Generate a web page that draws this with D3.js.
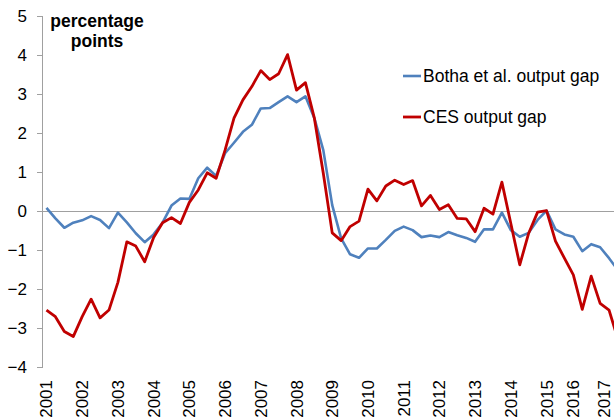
<!DOCTYPE html>
<html><head><meta charset="utf-8">
<script src="https://cdn.jsdelivr.net/npm/d3@7"></script>
<style>
html,body{margin:0;padding:0;background:#fff;}
svg{display:block;font-family:"Liberation Sans",Arial,sans-serif;}
</style></head>
<body>
<svg id="chart" width="614" height="418"></svg>
<script>
// Quarterly observations, 2001Q1 onward
const bothaGap = [0.08,-0.19,-0.43,-0.30,-0.24,-0.13,-0.23,-0.44,-0.04,-0.29,-0.57,-0.80,-0.60,-0.30,0.14,0.32,
  0.31,0.84,1.11,0.90,1.48,1.75,2.03,2.21,2.63,2.64,2.79,2.94,2.79,2.94,2.38,1.56,
  0.15,-0.70,-1.11,-1.20,-0.96,-0.96,-0.74,-0.51,-0.40,-0.49,-0.67,-0.63,-0.67,-0.54,-0.62,-0.69,
  -0.79,-0.47,-0.47,-0.04,-0.49,-0.66,-0.56,-0.23,0.01,-0.47,-0.60,-0.66,-1.03,-0.85,-0.93,-1.21,-1.52];
const cesGap = [-2.54,-2.71,-3.09,-3.22,-2.71,-2.26,-2.74,-2.54,-1.83,-0.79,-0.90,-1.30,-0.68,-0.30,-0.17,-0.32,
  0.22,0.54,0.98,0.84,1.56,2.38,2.85,3.19,3.60,3.37,3.52,4.01,3.10,3.29,2.38,0.97,
  -0.56,-0.76,-0.40,-0.26,0.56,0.26,0.64,0.79,0.68,0.78,0.13,0.40,0.04,0.16,-0.19,-0.20,
  -0.53,0.07,-0.08,0.74,-0.32,-1.38,-0.57,-0.03,0.01,-0.77,-1.21,-1.64,-2.52,-1.67,-2.37,-2.54,-3.30];
const yearLabels = ["2001","2002","2003","2004","2005","2006","2007","2008","2009","2010","2011","2012","2013","2014","2015","2016","2017"];
const yearLabelQuarter = [0,4,8,12,16,20,24,28,32,36,40,44,48,52,56,59,63];
const yTicks = [-4,-3,-2,-1,0,1,2,3,4,5];
const seriesNames = ["Botha et al. output gap","CES output gap"];
const seriesColors = ["#4f81bd","#c00000"];
const yTitle = ["percentage","points"];

const W = 614;
const svg = d3.select("#chart");
const categories = d3.range(cesGap.length);
const left = 42, step = 8.93;
const x = d3.scaleBand().domain(categories).range([left, left + step*categories.length]).padding(0);
const cx = i => x(i) + x.bandwidth()/2;
const y = d3.scaleLinear().domain([-4,5]).range([367,16]);

// zero line
svg.append("line").attr("x1",left).attr("x2",W).attr("y1",y(0)).attr("y2",y(0))
  .attr("stroke","#a0a0a0").attr("stroke-width",1).attr("shape-rendering","crispEdges");

// y axis
const yAxis = d3.axisLeft(y).tickValues(yTicks).tickSize(5).tickPadding(10).tickFormat(d3.format("d"));
const ga = svg.append("g").attr("transform",`translate(${left},0)`).call(yAxis);
ga.select(".domain").attr("stroke","#a0a0a0").attr("shape-rendering","crispEdges");
ga.selectAll(".tick line").attr("stroke","#a0a0a0").attr("shape-rendering","crispEdges");
ga.selectAll(".tick text").attr("font-size",17).attr("fill","#000").attr("font-family","'Liberation Sans',Arial,sans-serif");

// x labels
svg.append("g").selectAll("text").data(yearLabels).join("text")
  .attr("transform",(d,i)=>`translate(${Math.min(cx(yearLabelQuarter[i])+6, W-4.5)},380) rotate(-90)`)
  .attr("text-anchor","end").attr("font-size",17).attr("fill","#000")
  .text(d=>d);

// lines
const line = d3.line().x((d,i)=>cx(i)).y(d=>y(d));
[bothaGap, cesGap].forEach((s,k)=>{
  svg.append("path").datum(s).attr("d",line).attr("fill","none")
    .attr("stroke",seriesColors[k]).attr("stroke-width",k===0?2.6:2.8).attr("stroke-linejoin","round");
});

// title
svg.append("text").attr("x",97).attr("y",27).attr("text-anchor","middle").attr("font-weight","bold")
  .attr("font-size",17.5).text(yTitle[0]);
svg.append("text").attr("x",97).attr("y",47).attr("text-anchor","middle").attr("font-weight","bold")
  .attr("font-size",17.5).text(yTitle[1]);

// legend
const lg = svg.append("g");
seriesNames.forEach((n,k)=>{
  const ly = 76 + k*41;
  lg.append("line").attr("x1",403).attr("x2",421).attr("y1",ly).attr("y2",ly)
    .attr("stroke",seriesColors[k]).attr("stroke-width",k===0?2.6:2.8);
  lg.append("text").attr("x",423).attr("y",ly+6).attr("font-size",17.5).attr("fill","#000").text(n);
});
</script>
</body></html>
